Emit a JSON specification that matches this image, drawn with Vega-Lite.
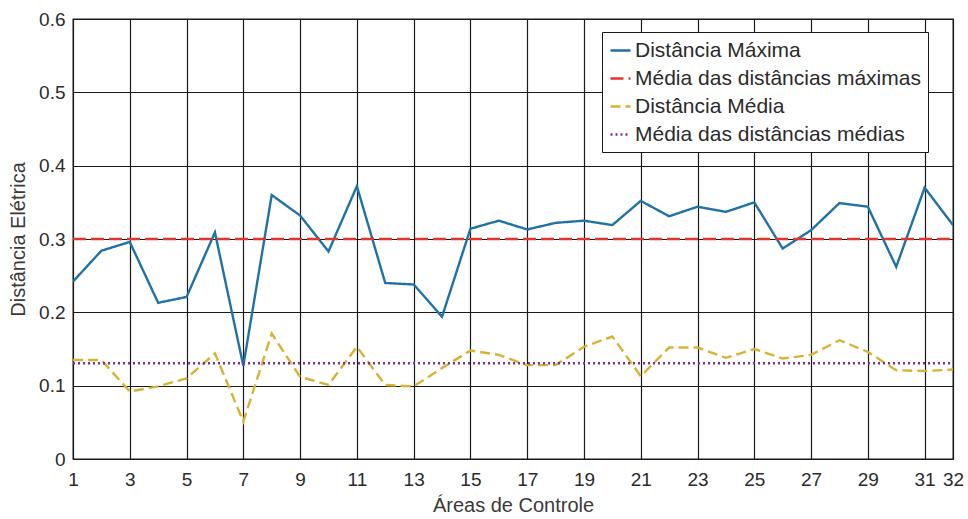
{
  "$schema": "https://vega.github.io/schema/vega-lite/v6.json",
  "autosize": "none",
  "width": 880,
  "height": 440,
  "padding": {"left": 73, "top": 19, "right": 15, "bottom": 60},
  "background": "white",
  "config": {
    "font": "Liberation Sans",
    "view": {"stroke": "#1a1a1a", "strokeWidth": 1.3},
    "axis": {"labelFont": "Liberation Sans", "titleFont": "Liberation Sans", "labelColor": "#2b2b2b", "titleColor": "#3a3a3a", "titleFontWeight": "normal"}
  },
  "datasets": {
    "series": [
      {"area": 1, "serie": "Distância Máxima", "valor": 0.242},
      {"area": 2, "serie": "Distância Máxima", "valor": 0.284},
      {"area": 3, "serie": "Distância Máxima", "valor": 0.296},
      {"area": 4, "serie": "Distância Máxima", "valor": 0.213},
      {"area": 5, "serie": "Distância Máxima", "valor": 0.221},
      {"area": 6, "serie": "Distância Máxima", "valor": 0.309},
      {"area": 7, "serie": "Distância Máxima", "valor": 0.127},
      {"area": 8, "serie": "Distância Máxima", "valor": 0.360},
      {"area": 9, "serie": "Distância Máxima", "valor": 0.332},
      {"area": 10, "serie": "Distância Máxima", "valor": 0.283},
      {"area": 11, "serie": "Distância Máxima", "valor": 0.372},
      {"area": 12, "serie": "Distância Máxima", "valor": 0.240},
      {"area": 13, "serie": "Distância Máxima", "valor": 0.238},
      {"area": 14, "serie": "Distância Máxima", "valor": 0.194},
      {"area": 15, "serie": "Distância Máxima", "valor": 0.314},
      {"area": 16, "serie": "Distância Máxima", "valor": 0.325},
      {"area": 17, "serie": "Distância Máxima", "valor": 0.313},
      {"area": 18, "serie": "Distância Máxima", "valor": 0.322},
      {"area": 19, "serie": "Distância Máxima", "valor": 0.325},
      {"area": 20, "serie": "Distância Máxima", "valor": 0.319},
      {"area": 21, "serie": "Distância Máxima", "valor": 0.352},
      {"area": 22, "serie": "Distância Máxima", "valor": 0.331},
      {"area": 23, "serie": "Distância Máxima", "valor": 0.344},
      {"area": 24, "serie": "Distância Máxima", "valor": 0.337},
      {"area": 25, "serie": "Distância Máxima", "valor": 0.350},
      {"area": 26, "serie": "Distância Máxima", "valor": 0.287},
      {"area": 27, "serie": "Distância Máxima", "valor": 0.312},
      {"area": 28, "serie": "Distância Máxima", "valor": 0.349},
      {"area": 29, "serie": "Distância Máxima", "valor": 0.344},
      {"area": 30, "serie": "Distância Máxima", "valor": 0.262},
      {"area": 31, "serie": "Distância Máxima", "valor": 0.370},
      {"area": 32, "serie": "Distância Máxima", "valor": 0.319},
      {"area": 1, "serie": "Média das distâncias máximas", "valor": 0.300},
      {"area": 32, "serie": "Média das distâncias máximas", "valor": 0.300},
      {"area": 1, "serie": "Distância Média", "valor": 0.135},
      {"area": 2, "serie": "Distância Média", "valor": 0.135},
      {"area": 3, "serie": "Distância Média", "valor": 0.092},
      {"area": 4, "serie": "Distância Média", "valor": 0.099},
      {"area": 5, "serie": "Distância Média", "valor": 0.110},
      {"area": 6, "serie": "Distância Média", "valor": 0.144},
      {"area": 7, "serie": "Distância Média", "valor": 0.051},
      {"area": 8, "serie": "Distância Média", "valor": 0.171},
      {"area": 9, "serie": "Distância Média", "valor": 0.112},
      {"area": 10, "serie": "Distância Média", "valor": 0.101},
      {"area": 11, "serie": "Distância Média", "valor": 0.153},
      {"area": 12, "serie": "Distância Média", "valor": 0.101},
      {"area": 13, "serie": "Distância Média", "valor": 0.099},
      {"area": 14, "serie": "Distância Média", "valor": 0.124},
      {"area": 15, "serie": "Distância Média", "valor": 0.148},
      {"area": 16, "serie": "Distância Média", "valor": 0.142},
      {"area": 17, "serie": "Distância Média", "valor": 0.128},
      {"area": 18, "serie": "Distância Média", "valor": 0.128},
      {"area": 19, "serie": "Distância Média", "valor": 0.153},
      {"area": 20, "serie": "Distância Média", "valor": 0.167},
      {"area": 21, "serie": "Distância Média", "valor": 0.113},
      {"area": 22, "serie": "Distância Média", "valor": 0.152},
      {"area": 23, "serie": "Distância Média", "valor": 0.152},
      {"area": 24, "serie": "Distância Média", "valor": 0.138},
      {"area": 25, "serie": "Distância Média", "valor": 0.150},
      {"area": 26, "serie": "Distância Média", "valor": 0.137},
      {"area": 27, "serie": "Distância Média", "valor": 0.142},
      {"area": 28, "serie": "Distância Média", "valor": 0.162},
      {"area": 29, "serie": "Distância Média", "valor": 0.146},
      {"area": 30, "serie": "Distância Média", "valor": 0.121},
      {"area": 31, "serie": "Distância Média", "valor": 0.120},
      {"area": 32, "serie": "Distância Média", "valor": 0.122},
      {"area": 1, "serie": "Média das distâncias médias", "valor": 0.1305},
      {"area": 32, "serie": "Média das distâncias médias", "valor": 0.1305}
    ]
  },
  "data": {"name": "series"},
  "mark": {"type": "line", "strokeWidth": 2.4, "clip": true},
  "encoding": {
    "x": {
      "field": "area", "type": "quantitative",
      "scale": {"domain": [1, 32], "nice": false, "zero": false},
      "axis": {
        "title": "Áreas de Controle", "titleFontSize": 20, "titlePadding": 6,
        "values": [1, 3, 5, 7, 9, 11, 13, 15, 17, 19, 21, 23, 25, 27, 29, 31, 32],
        "format": "d",
        "labelFontSize": 19, "labelPadding": 11, "labelFlush": false, "labelOverlap": false,
        "grid": true, "gridColor": "#1a1a1a", "gridWidth": 1.2, "gridOpacity": 1,
        "domain": false, "ticks": false
      }
    },
    "y": {
      "field": "valor", "type": "quantitative",
      "scale": {"domain": [0, 0.6], "nice": false},
      "axis": {
        "title": "Distância Elétrica", "titleFontSize": 20, "titlePadding": 10,
        "values": [0, 0.1, 0.2, 0.3, 0.4, 0.5, 0.6], "format": ".1~f",
        "labelFontSize": 19, "labelPadding": 8, "labelOverlap": false,
        "grid": true, "gridColor": "#1a1a1a", "gridWidth": 1.2, "gridOpacity": 1,
        "domain": false, "ticks": false
      }
    },
    "color": {
      "field": "serie", "type": "nominal",
      "scale": {
        "domain": ["Distância Máxima", "Média das distâncias máximas", "Distância Média", "Média das distâncias médias"],
        "range": ["#1f72a6", "#e4342b", "#d8b232", "#7e2f8e"]
      },
      "legend": {
        "title": null, "orient": "none", "legendX": 529, "legendY": 13,
        "fillColor": "white", "strokeColor": "#1a1a1a", "padding": 7,
        "labelFontSize": 21, "labelColor": "#2b2b2b", "labelFont": "Liberation Sans",
        "symbolType": "stroke", "symbolSize": 400, "symbolStrokeWidth": 2.4,
        "rowPadding": 6, "labelOffset": 3, "labelLimit": 400
      }
    },
    "strokeDash": {
      "field": "serie", "type": "nominal",
      "scale": {
        "domain": ["Distância Máxima", "Média das distâncias máximas", "Distância Média", "Média das distâncias médias"],
        "range": [[1, 0], [13, 5], [10, 5], [2, 3]]
      },
      "legend": null
    },
    "order": {"field": "area", "type": "quantitative"}
  }
}
